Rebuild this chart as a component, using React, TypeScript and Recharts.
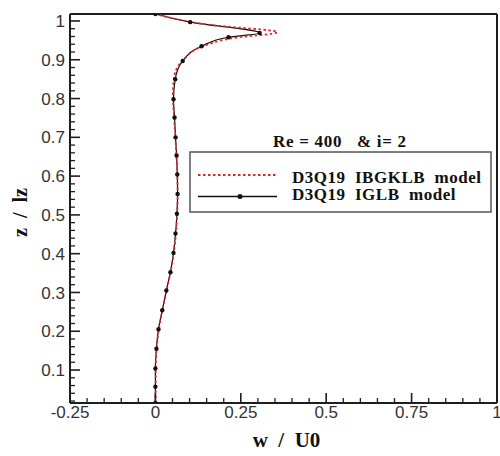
import { LineChart, Line, XAxis, YAxis, Legend, Label, ReferenceLine } from 'recharts';

// D3Q19 IGLB model (solid black with markers)
const zIGLB = [0.015, 0.057, 0.104, 0.155, 0.205, 0.254, 0.305, 0.352, 0.402, 0.452, 0.503, 0.554, 0.604, 0.653, 0.7, 0.751, 0.798, 0.85, 0.897, 0.935, 0.958, 0.969, 0.997, 1.018];
const wIGLB = [0, 0, 0, 0.003, 0.009, 0.02, 0.032, 0.044, 0.053, 0.059, 0.063, 0.065, 0.064, 0.062, 0.059, 0.056, 0.053, 0.058, 0.08, 0.135, 0.214, 0.305, 0.102, 0];

// D3Q19 IBGKLB model (red dotted)
const zIBGKLB = [0.015, 0.06, 0.11, 0.16, 0.21, 0.26, 0.31, 0.36, 0.41, 0.46, 0.51, 0.56, 0.61, 0.66, 0.71, 0.76, 0.81, 0.86, 0.9, 0.935, 0.955, 0.971, 0.99, 1.018];
const wIBGKLB = [0, 0.001, 0.001, 0.004, 0.011, 0.022, 0.034, 0.046, 0.055, 0.061, 0.064, 0.065, 0.064, 0.061, 0.058, 0.054, 0.051, 0.056, 0.082, 0.14, 0.22, 0.357, 0.16, 0];

const xTicks = [-0.25, 0, 0.25, 0.5, 0.75, 1];
const yTicks = [0.1, 0.2, 0.3, 0.4, 0.5, 0.6, 0.7, 0.8, 0.9, 1];
// minor ticks: every 0.05 on x, every 0.02 on z
const xAllTicks = Array.from({ length: 26 }, (_, i) => Math.round((-0.25 + i * 0.05) * 100) / 100);
const yAllTicks = Array.from({ length: 50 }, (_, i) => Math.round((0.02 + i * 0.02) * 100) / 100);

const X_DOMAIN: [number, number] = [-0.25, 1];
const Y_DOMAIN: [number, number] = [0.015, 1.018];

const iglbData = zIGLB.map((z, i) => ({ z, w: wIGLB[i] }));
const ibgklbData = zIBGKLB.map((z, i) => ({ z, w: wIBGKLB[i] }));

const SANS = '"Liberation Sans", Arial, sans-serif';
const SERIF = '"Liberation Serif", "Times New Roman", serif';
const AXIS = '#1e1e1e';
const X_MARGIN = 3;
const Y_MARGIN = 5;

const isMajor = (list: number[], v: number) => list.some((t) => Math.abs(t - v) < 1e-9);

// label outside, tick mark pointing into the plot
function XTick(props: any) {
  const { x, y, payload } = props;
  const major = isMajor(xTicks, payload.value);
  const base = y - X_MARGIN;
  return (
    <g>
      <path d={`M${x},${base}L${x},${base - (major ? 10 : 5)}`} stroke={AXIS} strokeWidth={major ? 1.6 : 1.3} fill="none" />
      {major && (
        <text x={x} y={y} dy="0.71em" textAnchor="middle" fontSize={17} fill="#333" fontFamily={SANS}>
          {String(payload.value)}
        </text>
      )}
    </g>
  );
}

function YTick(props: any) {
  const { x, y, payload } = props;
  const major = isMajor(yTicks, payload.value);
  const base = x + Y_MARGIN;
  return (
    <g>
      <path d={`M${base},${y}L${base + (major ? 10 : 5)},${y}`} stroke={AXIS} strokeWidth={major ? 1.6 : 1.3} fill="none" />
      {major && (
        <text x={x} y={y} dy="0.355em" textAnchor="end" fontSize={17} fill="#333" fontFamily={SANS}>
          {String(payload.value)}
        </text>
      )}
    </g>
  );
}

function LegendBox({ payload }: any) {
  const isDashed = (e: any) => Boolean(e?.payload?.strokeDasharray);
  const items = [...(payload || [])].sort((a, b) => Number(isDashed(b)) - Number(isDashed(a)));
  return (
    <svg width={315} height={95} style={{ display: 'block' }}>
      <text x={88} y={22} fontFamily={SERIF} fontWeight="bold" fontSize={17} letterSpacing={0.7} fill="#111" style={{ whiteSpace: 'pre' }}>
        {'Re = 400   & i= 2'}
      </text>
      <rect x={5} y={27} width={301} height={60} fill="#fff" stroke="#555" strokeWidth={1.5} />
      {items.map((entry: any, i: number) => {
        const dashed = isDashed(entry);
        const ly = i === 0 ? 50 : 71.5;
        const ty = i === 0 ? 58 : 75;
        return (
          <g key={entry.value}>
            <line x1={13} x2={92} y1={ly} y2={ly} stroke={entry.color} strokeWidth={dashed ? 2 : 1.3} strokeDasharray={dashed ? '2.5 2.5' : undefined} />
            {!dashed && <circle cx={55} cy={ly} r={2.5} fill={entry.color} />}
            <text x={107} y={ty} fontFamily={SERIF} fontWeight="bold" fontSize={17} letterSpacing={0.5} fill="#111" style={{ whiteSpace: 'pre' }}>
              {entry.value}
            </text>
          </g>
        );
      })}
    </svg>
  );
}

export default function App() {
  return (
    <div style={{ position: 'absolute', left: 0, top: 0, background: '#fff' }}>
      <LineChart width={500} height={456} layout="vertical" margin={{ top: 14, right: 3, bottom: 0, left: 0 }}>
        <XAxis
          xAxisId="main"
          type="number"
          domain={X_DOMAIN}
          ticks={xAllTicks}
          interval={0}
          allowDataOverflow
          height={53}
          tickSize={0}
          tickMargin={X_MARGIN}
          tickLine={false}
          axisLine={{ stroke: AXIS, strokeWidth: 2 }}
          tick={XTick}
        >
          <Label
            content={({ viewBox }: any) => (
              <text x={viewBox.x + viewBox.width / 2 + 3} y={447} textAnchor="middle" fontFamily={SERIF} fontWeight="bold" fontSize={21} fill="#111" style={{ whiteSpace: 'pre' }}>
                {'w  /  U0'}
              </text>
            )}
          />
        </XAxis>
        <YAxis
          yAxisId="main"
          type="number"
          dataKey="z"
          reversed
          domain={Y_DOMAIN}
          ticks={yAllTicks}
          interval={0}
          allowDataOverflow
          width={70}
          tickSize={0}
          tickMargin={Y_MARGIN}
          tickLine={false}
          axisLine={{ stroke: AXIS, strokeWidth: 2 }}
          tick={YTick}
        >
          <Label
            content={({ viewBox }: any) => {
              const cx = viewBox.x + 27;
              const cy = viewBox.y + viewBox.height / 2 + 4;
              return (
                <text x={cx} y={cy} transform={`rotate(-90 ${cx} ${cy})`} textAnchor="middle" fontFamily={SERIF} fontWeight="bold" fontSize={20} fill="#111" style={{ whiteSpace: 'pre' }}>
                  {'z  /  lz'}
                </text>
              );
            }}
          />
        </YAxis>

        {/* plot frame: right and top edges */}
        <ReferenceLine xAxisId="main" yAxisId="main" x={X_DOMAIN[1]} stroke={AXIS} strokeWidth={2} ifOverflow="visible" />
        <ReferenceLine xAxisId="main" yAxisId="main" y={Y_DOMAIN[1]} stroke={AXIS} strokeWidth={2} ifOverflow="visible" />

        <Legend layout="vertical" align="center" verticalAlign="middle" wrapperStyle={{ position: 'absolute', left: 185, top: 125, width: 315, height: 95 }} content={<LegendBox />} />

        <Line
          xAxisId="main"
          yAxisId="main"
          data={iglbData}
          dataKey="w"
          name="D3Q19  IGLB  model"
          type="monotone"
          stroke="#111"
          strokeWidth={1.2}
          dot={{ r: 2.2, fill: '#111', stroke: 'none' }}
          isAnimationActive={false}
        />
        <Line
          xAxisId="main"
          yAxisId="main"
          data={ibgklbData}
          dataKey="w"
          name="D3Q19  IBGKLB  model"
          type="monotone"
          stroke="#e3262b"
          strokeWidth={1.8}
          strokeDasharray="2.5 2.5"
          dot={false}
          isAnimationActive={false}
        />
      </LineChart>
    </div>
  );
}
